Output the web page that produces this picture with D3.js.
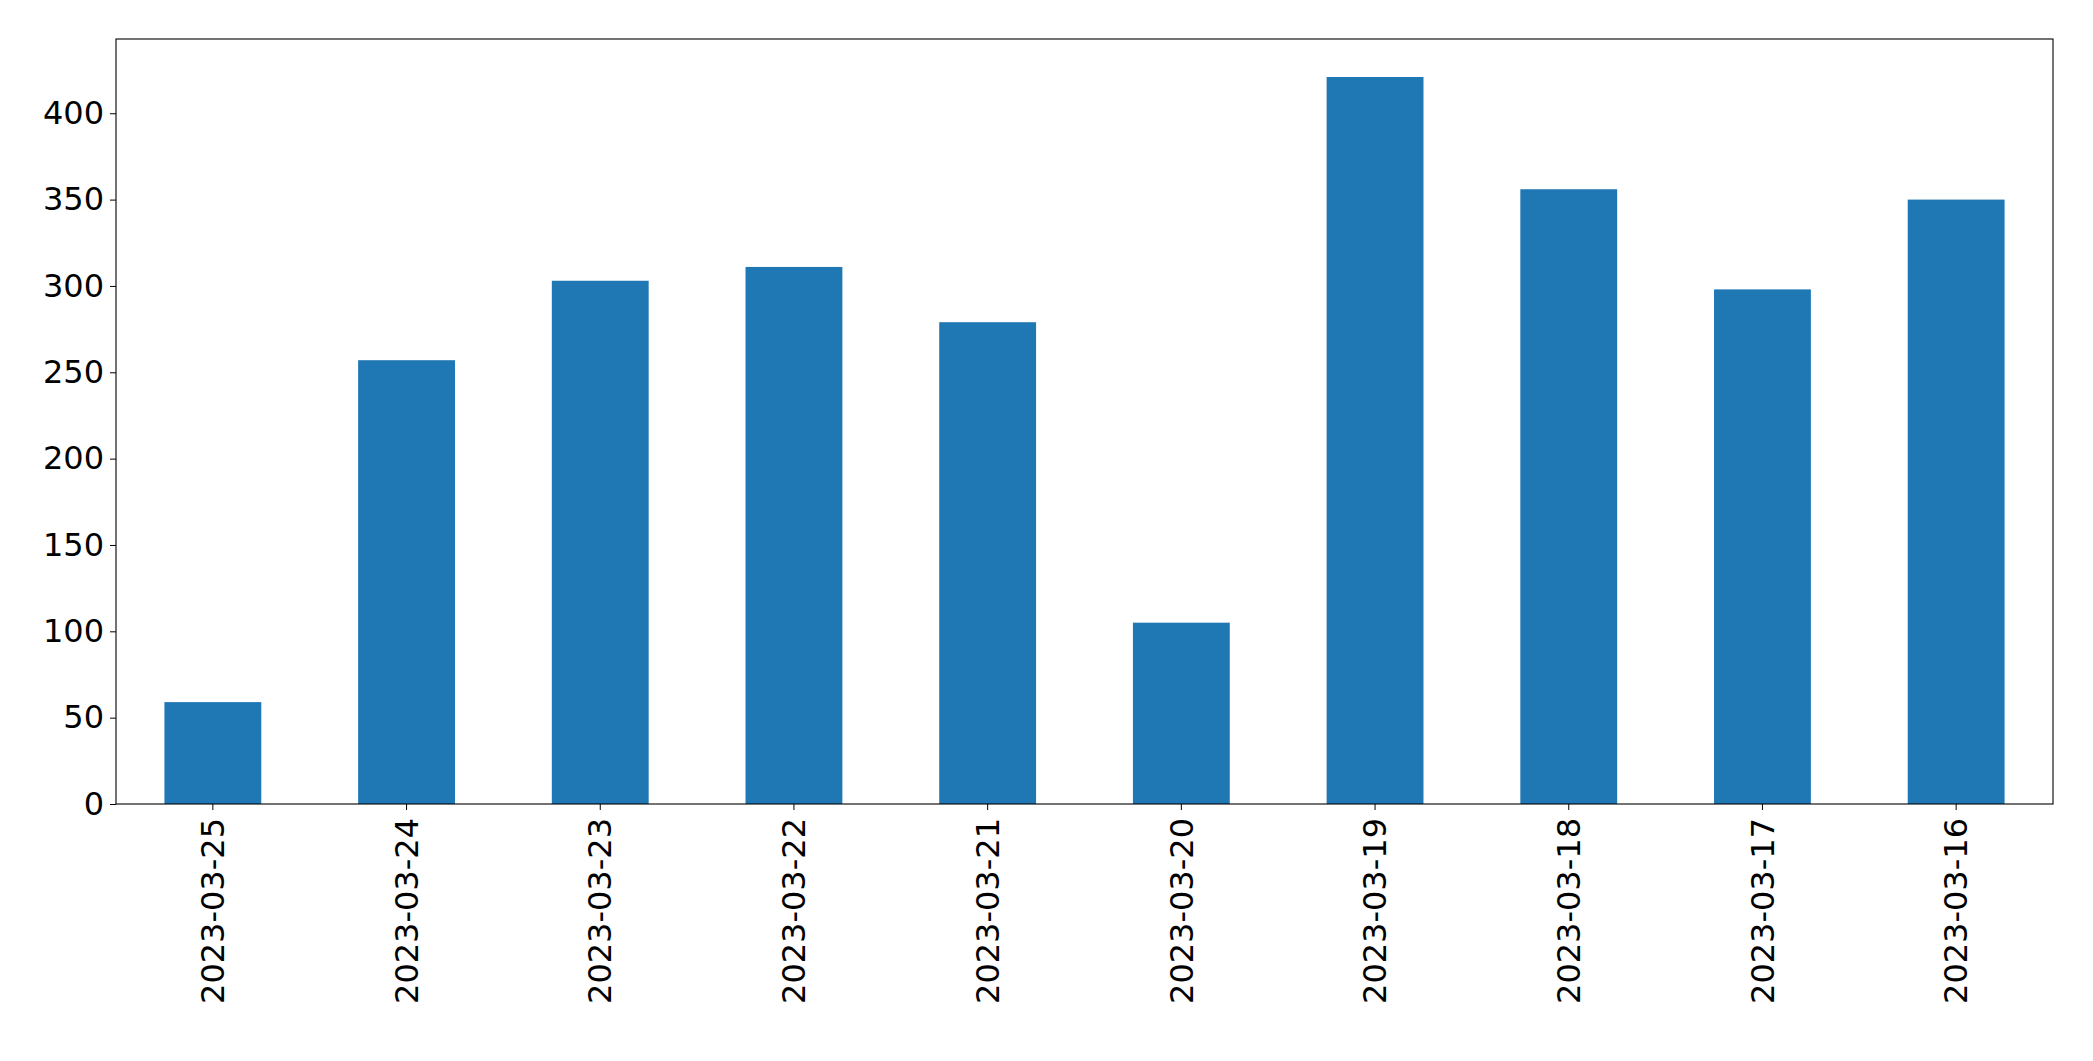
<!DOCTYPE html>
<html>
<head>
<meta charset="utf-8">
<script src="https://cdn.jsdelivr.net/npm/d3@7"></script>
<style>
  body { margin: 0; background: #fff; }
  text { font-family: "DejaVu Sans", sans-serif; }
</style>
</head>
<body>
<svg id="chart" width="2093" height="1061"></svg>
<script>
var dates = ["2023-03-25", "2023-03-24", "2023-03-23", "2023-03-22", "2023-03-21",
             "2023-03-20", "2023-03-19", "2023-03-18", "2023-03-17", "2023-03-16"];
var counts = [59, 257, 303, 311, 279, 105, 421, 356, 298, 350];
var yTicks = [0, 50, 100, 150, 200, 250, 300, 350, 400];

var margin = {top: 39, right: 40, bottom: 257, left: 116};
var width = 2093 - margin.left - margin.right;
var height = 1061 - margin.top - margin.bottom;

var svg = d3.select("#chart")
  .append("g")
  .attr("transform", "translate(" + margin.left + "," + margin.top + ")");

// matplotlib style: bar width 0.5 of slot, slots centred
var x = d3.scaleBand().domain(dates).range([0, width]).paddingInner(0.5).paddingOuter(0.25);
var y = d3.scaleLinear().domain([0, 443]).range([height, 0]);

svg.selectAll("rect.bar")
  .data(counts)
  .enter().append("rect")
  .attr("class", "bar")
  .attr("x", function (d, i) { return x(dates[i]); })
  .attr("y", function (d) { return y(d); })
  .attr("width", x.bandwidth())
  .attr("height", function (d) { return height - y(d); })
  .attr("fill", "#1f77b4");

// frame
svg.append("rect")
  .attr("width", width).attr("height", height)
  .attr("fill", "none").attr("stroke", "#000").attr("stroke-width", 1.1);

var xAxis = svg.append("g")
  .attr("transform", "translate(0," + height + ")")
  .call(d3.axisBottom(x).tickSize(6).tickPadding(8));
xAxis.select(".domain").remove();
xAxis.selectAll("text")
  .attr("font-size", 32)
  .attr("transform", "rotate(-90)")
  .attr("text-anchor", "end")
  .attr("x", -14).attr("y", 0).attr("dy", "0.35em");

var yAxis = svg.append("g")
  .call(d3.axisLeft(y).tickValues(yTicks).tickSize(6).tickPadding(6));
yAxis.select(".domain").remove();
yAxis.selectAll("text").attr("font-size", 32);
</script>
</body>
</html>
